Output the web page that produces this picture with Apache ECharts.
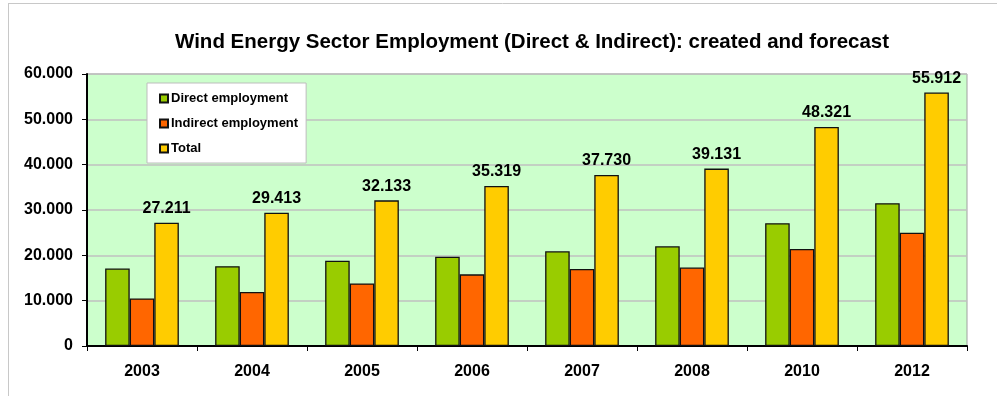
<!DOCTYPE html>
<html>
<head>
<meta charset="utf-8">
<title>Wind Energy Sector Employment</title>
<script src="https://cdn.jsdelivr.net/npm/echarts@6/dist/echarts.min.js"></script>
<style>
  html, body { margin: 0; padding: 0; background: #fff; }
  #chart { width: 997px; height: 396px; }
</style>
</head>
<body>
<div id="chart"></div>
<script>
// Employment figures per year (jobs)
const years = ['2003', '2004', '2005', '2006', '2007', '2008', '2010', '2012'];
const directEmployment = [17100, 17600, 18800, 19700, 20900, 22000, 27100, 31500];
const indirectEmployment = [10500, 11900, 13800, 15800, 17000, 17300, 21400, 25000];
const totalEmployment = [27211, 29413, 32133, 35319, 37730, 39131, 48321, 55912];
const yTicks = [0, 10000, 20000, 30000, 40000, 50000, 60000];

const FONT = '"Liberation Sans", Arial, sans-serif';

// Thousands separated with a dot: 27211 -> "27.211"
function fmt(v) {
  if (v === 0) return '0';
  return String(Math.round(v)).replace(/\B(?=(\d{3})+(?!\d))/g, '.');
}

const chart = echarts.init(document.getElementById('chart'));

const barStyle = (color) => ({
  color: color,
  borderColor: '#111',
  borderWidth: 1.3
});

chart.setOption({
  animation: false,
  backgroundColor: '#fff',
  textStyle: { fontFamily: FONT },
  graphic: [
    { type: 'line', shape: { x1: 8, y1: 3.5, x2: 997, y2: 3.5 }, style: { stroke: '#c8c8c8', lineWidth: 1 } },
    { type: 'line', shape: { x1: 8.5, y1: 3, x2: 8.5, y2: 396 }, style: { stroke: '#c8c8c8', lineWidth: 1 } }
  ],
  title: {
    text: 'Wind Energy Sector Employment (Direct & Indirect): created and forecast',
    left: 175,
    top: 32,
    padding: 0,
    textStyle: { fontFamily: FONT, fontSize: 20.5, fontWeight: 'bold', color: '#000' }
  },
  legend: {
    orient: 'vertical',
    left: 147,
    top: 83,
    padding: [9, 8, 8, 12],
    itemGap: 12,
    itemWidth: 8,
    itemHeight: 8,
    icon: 'rect',
    backgroundColor: '#fff',
    borderColor: '#bdbdbd',
    borderWidth: 1,
    textStyle: { fontFamily: FONT, fontSize: 13, fontWeight: 'bold', color: '#000', padding: [0, 0, 0, -2] },
    data: ['Direct employment', 'Indirect employment', 'Total']
  },
  grid: {
    left: 87,
    right: 30,
    top: 74,
    bottom: 50,
    show: true,
    backgroundColor: '#ccffcc',
    borderColor: '#a0a0a0',
    borderWidth: 1,
    containLabel: false
  },
  xAxis: {
    type: 'category',
    data: years,
    axisLine: { lineStyle: { color: '#000', width: 2 } },
    axisTick: { show: true, length: 5, lineStyle: { color: '#000', width: 1 } },
    axisLabel: { fontFamily: FONT, fontSize: 16, fontWeight: 'bold', color: '#000', margin: 18 },
    splitLine: { show: false }
  },
  yAxis: {
    type: 'value',
    min: yTicks[0],
    max: yTicks[yTicks.length - 1],
    interval: yTicks[1] - yTicks[0],
    axisLine: { show: true, lineStyle: { color: '#000', width: 2 } },
    axisTick: { show: true, length: 5, lineStyle: { color: '#000', width: 1 } },
    axisLabel: { fontFamily: FONT, fontSize: 16, fontWeight: 'bold', color: '#000', margin: 14, formatter: fmt },
    splitLine: { show: true, lineStyle: { color: '#c0c0c0', width: 1.5 } }
  },
  series: [
    {
      name: 'Direct employment',
      type: 'bar',
      data: directEmployment,
      barGap: '0%',
      barCategoryGap: '33%',
      itemStyle: barStyle('#99cc00')
    },
    {
      name: 'Indirect employment',
      type: 'bar',
      data: indirectEmployment,
      barGap: '0%',
      barCategoryGap: '33%',
      itemStyle: barStyle('#ff6600')
    },
    {
      name: 'Total',
      type: 'bar',
      data: totalEmployment,
      barGap: '0%',
      barCategoryGap: '33%',
      itemStyle: barStyle('#ffcc00'),
      label: {
        show: true,
        position: 'top',
        distance: 6,
        formatter: (p) => fmt(p.value),
        fontFamily: FONT,
        fontSize: 16,
        fontWeight: 'bold',
        color: '#000'
      }
    }
  ]
});
</script>
</body>
</html>
